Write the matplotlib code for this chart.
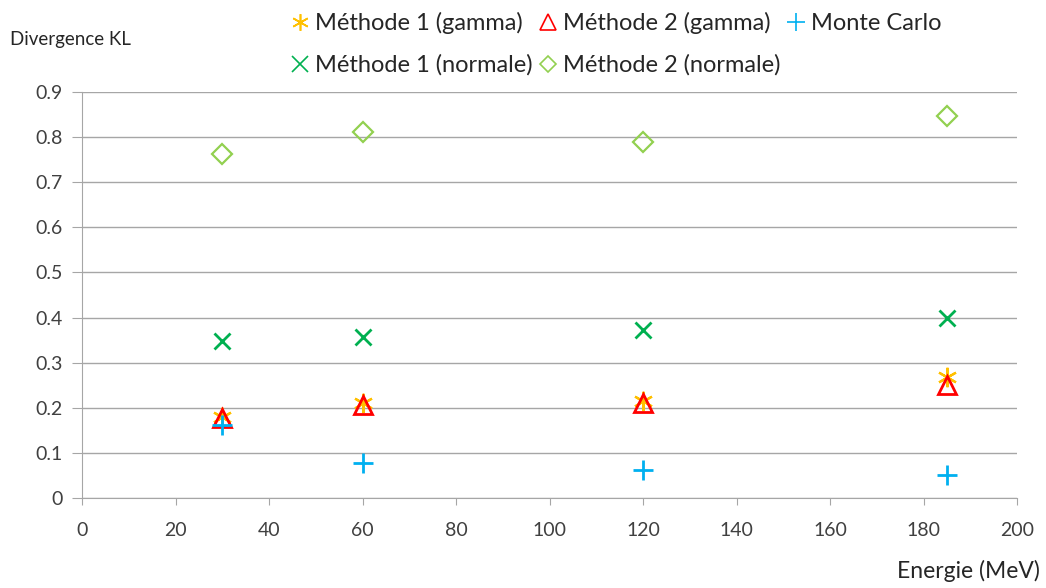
import matplotlib
matplotlib.use("Agg")
import matplotlib.pyplot as plt
from matplotlib.lines import Line2D

plt.rcParams['font.family'] = ['Lato', 'DejaVu Sans']

energies = [30, 60, 120, 185]
m1_gamma = [0.180, 0.210, 0.215, 0.268]
m2_gamma = [0.177, 0.206, 0.210, 0.250]
monte_carlo = [0.162, 0.078, 0.062, 0.050]
m1_normale = [0.348, 0.357, 0.372, 0.399]
m2_normale = [0.763, 0.812, 0.790, 0.847]

xticks = [0, 20, 40, 60, 80, 100, 120, 140, 160, 180, 200]
yticks = [0, 0.1, 0.2, 0.3, 0.4, 0.5, 0.6, 0.7, 0.8, 0.9]

labels = ['Méthode 1 (gamma)', 'Méthode 2 (gamma)', 'Monte Carlo',
          'Méthode 1 (normale)', 'Méthode 2 (normale)']

c_m1g, c_m2g, c_mc, c_m1n, c_m2n = '#FFC000', '#FF0000', '#00B0F0', '#00B050', '#92D050'

fig = plt.figure(figsize=(10.46, 5.88), dpi=100)
ax = fig.add_axes([82/1046, 1-498/588, (1017-82)/1046, (498-92)/588])

ax.plot(energies, m1_normale, linestyle='none', marker='x', markersize=12,
        markeredgewidth=2, color=c_m1n)
ax.plot(energies, m2_normale, linestyle='none', marker='D', markersize=10,
        markeredgewidth=1.6, markerfacecolor='none', markeredgecolor=c_m2n)
ax.plot(energies, m1_gamma, linestyle='none', marker=(6, 2, 0), markersize=14,
        markeredgewidth=1.6, color=c_m1g)
ax.plot(energies, m2_gamma, linestyle='none', marker='^', markersize=13,
        markeredgewidth=2, markerfacecolor='none', markeredgecolor=c_m2g)
ax.plot(energies, monte_carlo, linestyle='none', marker='+', markersize=14,
        markeredgewidth=2, color=c_mc)

ax.set_xlim(0, 200)
ax.set_ylim(0, 0.9)
ax.set_xticks(xticks)
ax.set_yticks(yticks)
ax.set_xticklabels([str(v) for v in xticks])
ax.set_yticklabels(['0'] + ['%.1f' % v for v in yticks[1:]])
ax.yaxis.grid(True, color='#A6A6A6', linewidth=1)
ax.set_axisbelow(True)
for s in ['top', 'right']:
    ax.spines[s].set_visible(False)
for s in ['left', 'bottom']:
    ax.spines[s].set_color('#A6A6A6')
ax.tick_params(axis='both', colors='#A6A6A6', labelcolor='#404040', labelsize=14,
               length=5, direction='out')
ax.tick_params(axis='x', pad=12)
ax.tick_params(axis='y', pad=7, length=7)

fig.text(10/1046, 1-40/588, 'Divergence KL', fontsize=13.5, color='#262626', va='center', ha='left')
fig.text(1040/1046, 1-571/588, 'Energie (MeV)', fontsize=16.5, color='#262626', va='center', ha='right')

# Legend (proxy handles with thinner legend symbols)
handles = {
    labels[0]: Line2D([], [], linestyle='none', marker=(6, 2, 0), markersize=12, markeredgewidth=1.2, color=c_m1g),
    labels[1]: Line2D([], [], linestyle='none', marker='^', markersize=11, markeredgewidth=1.2,
                      markerfacecolor='none', markeredgecolor=c_m2g),
    labels[2]: Line2D([], [], linestyle='none', marker='+', markersize=13, markeredgewidth=1.2, color=c_mc),
    labels[3]: Line2D([], [], linestyle='none', marker='x', markersize=11, markeredgewidth=1.2, color=c_m1n),
    labels[4]: Line2D([], [], linestyle='none', marker='D', markersize=8, markeredgewidth=1.2,
                      markerfacecolor='none', markeredgecolor=c_m2n),
}
order = [labels[0], labels[3], labels[1], labels[4], labels[2]]
leg = fig.legend([handles[k] for k in order], order, ncol=3, loc='upper left',
                 bbox_to_anchor=(276/1046, 1+2/588), frameon=False, fontsize=17,
                 handlelength=0.8, handletextpad=0.25, columnspacing=0.25,
                 labelspacing=0.85, borderpad=0.1)
for t in leg.get_texts():
    t.set_color('#262626')

fig.savefig('out.png', dpi=100)
